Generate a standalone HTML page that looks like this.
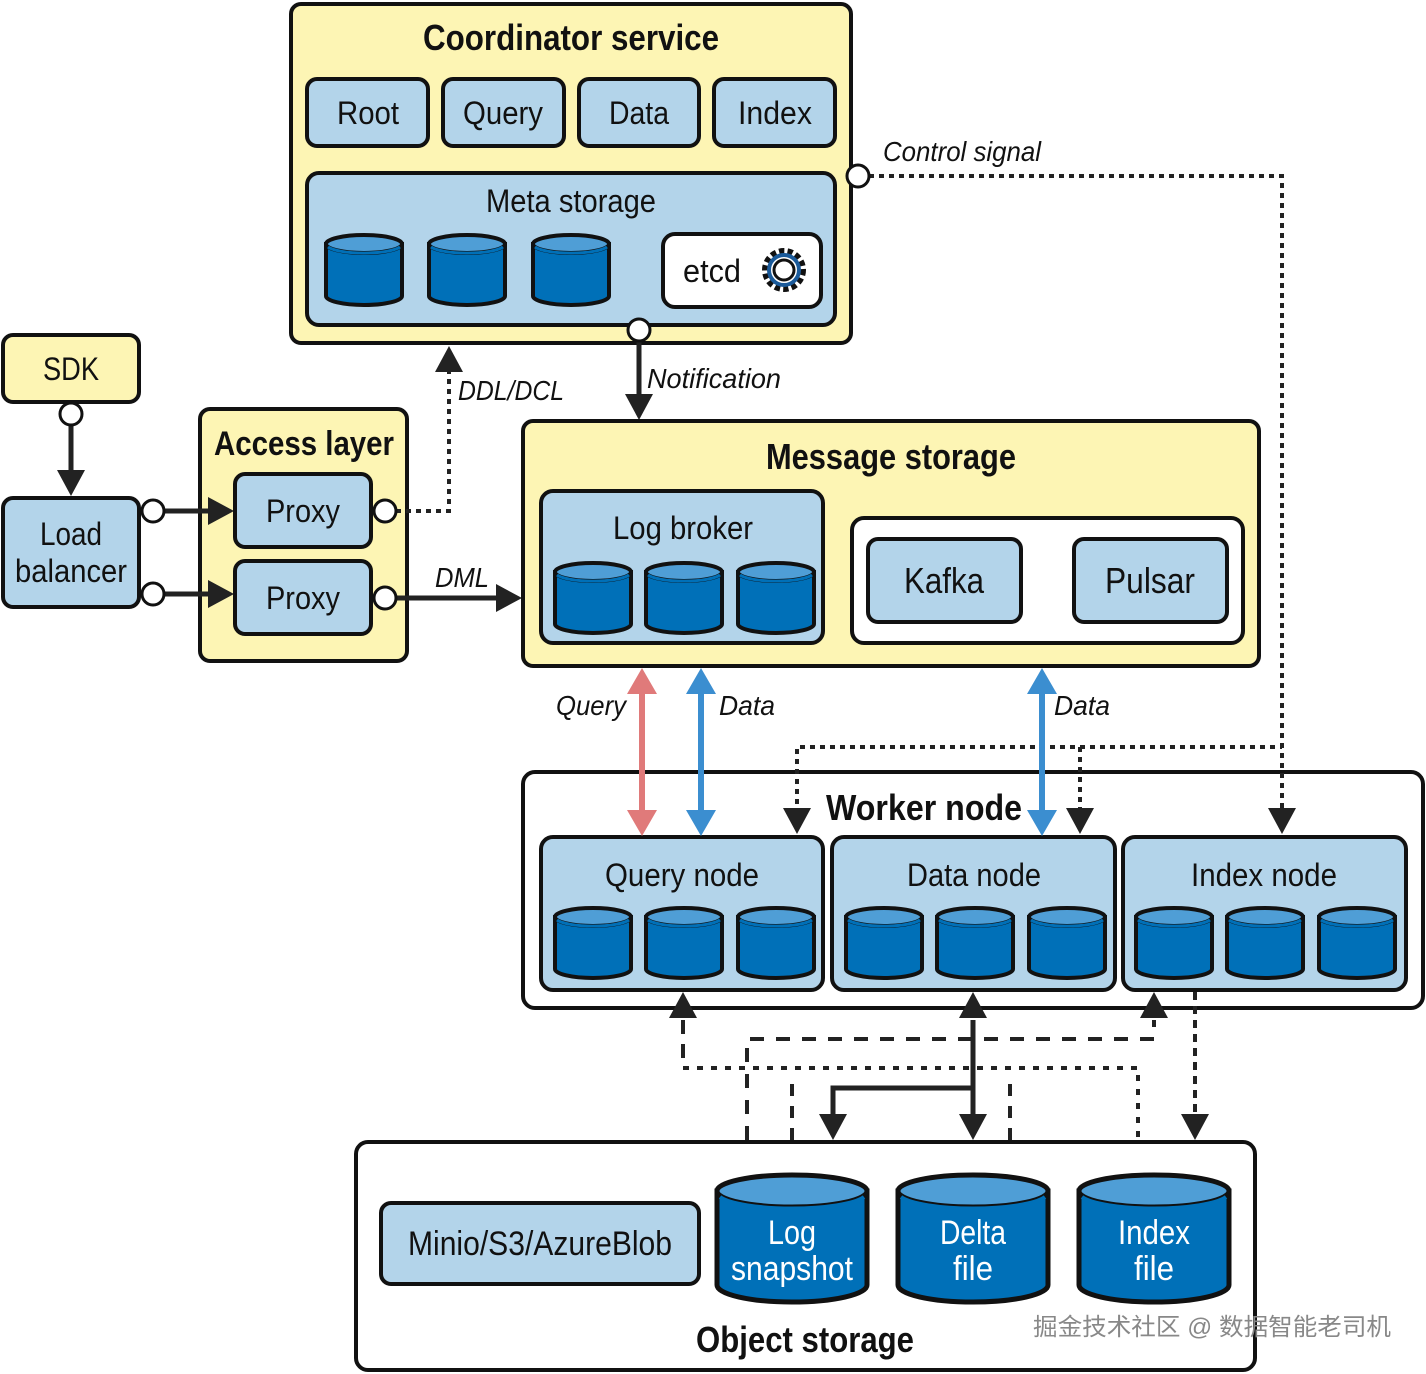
<!DOCTYPE html>
<html><head><meta charset="utf-8"><style>
html,body{margin:0;padding:0;background:#fff}
svg{display:block}
text{font-family:"Liberation Sans","Noto Sans CJK SC",sans-serif;fill:#111}
</style></head><body>
<svg width="1426" height="1374" viewBox="0 0 1426 1374" xmlns="http://www.w3.org/2000/svg">
<defs>
<g id="cyl">
<path d="M0,10 V62 A38,9 0 0 0 76,62 V10 Z" fill="#0070b8" stroke="#111" stroke-width="4"/>
<ellipse cx="38" cy="10" rx="38" ry="9" fill="#4f9ed6" stroke="#111" stroke-width="4"/>
<path d="M2,13 A38,9 0 0 0 74,13" fill="none" stroke="#0070b8" stroke-width="3"/>
</g>
<g id="bcyl">
<path d="M0,18 V112 A75,17 0 0 0 150,112 V18 Z" fill="#0070b8" stroke="#111" stroke-width="5"/>
<ellipse cx="75" cy="18" rx="75" ry="16" fill="#4f9ed6" stroke="#111" stroke-width="5"/>
<path d="M3,24 A75,16 0 0 0 147,24" fill="none" stroke="#0070b8" stroke-width="4"/>
</g>
</defs>

<!-- Coordinator -->
<rect x="291" y="4" width="560" height="339" rx="10" fill="#fdf5b4" stroke="#111" stroke-width="4"/>
<text x="571" y="50" font-size="36" font-weight="bold" text-anchor="middle" textLength="296" lengthAdjust="spacingAndGlyphs">Coordinator service</text>
<g font-size="32" text-anchor="middle">
<rect x="307" y="79" width="121" height="67" rx="10" fill="#b3d4ea" stroke="#111" stroke-width="4"/>
<text x="368" y="124" textLength="62" lengthAdjust="spacingAndGlyphs">Root</text>
<rect x="443" y="79" width="121" height="67" rx="10" fill="#b3d4ea" stroke="#111" stroke-width="4"/>
<text x="503" y="124" textLength="80" lengthAdjust="spacingAndGlyphs">Query</text>
<rect x="579" y="79" width="120" height="67" rx="10" fill="#b3d4ea" stroke="#111" stroke-width="4"/>
<text x="639" y="124" textLength="60" lengthAdjust="spacingAndGlyphs">Data</text>
<rect x="714" y="79" width="121" height="67" rx="10" fill="#b3d4ea" stroke="#111" stroke-width="4"/>
<text x="775" y="124" textLength="74" lengthAdjust="spacingAndGlyphs">Index</text>
</g>
<rect x="307" y="173" width="528" height="152" rx="12" fill="#b3d4ea" stroke="#111" stroke-width="4"/>
<text x="571" y="212" font-size="32" text-anchor="middle" textLength="170" lengthAdjust="spacingAndGlyphs">Meta storage</text>
<use href="#cyl" x="326" y="234"/><use href="#cyl" x="429" y="234"/><use href="#cyl" x="533" y="234"/>
<rect x="663" y="234" width="158" height="73" rx="12" fill="#fff" stroke="#111" stroke-width="4"/>
<text x="712" y="282" font-size="32" text-anchor="middle" textLength="58" lengthAdjust="spacingAndGlyphs">etcd</text>
<circle cx="784" cy="270" r="18" fill="none" stroke="#111" stroke-width="8" stroke-dasharray="5 3"/>
<circle cx="784" cy="270" r="15" fill="none" stroke="#1a5a9a" stroke-width="4"/>
<circle cx="784" cy="270" r="10" fill="#fff" stroke="#111" stroke-width="3"/>

<!-- SDK -->
<rect x="3" y="335" width="136" height="67" rx="10" fill="#fdf5b4" stroke="#111" stroke-width="4"/>
<text x="71" y="380" font-size="32" text-anchor="middle" textLength="56" lengthAdjust="spacingAndGlyphs">SDK</text>
<line x1="71" y1="424" x2="71" y2="476" stroke="#222" stroke-width="5"/>
<path d="M57,470 L71,496 L85,470Z" fill="#222"/>
<circle cx="71" cy="414" r="11" fill="#fff" stroke="#111" stroke-width="3"/>
<rect x="3" y="498" width="136" height="109" rx="10" fill="#b3d4ea" stroke="#111" stroke-width="4"/>
<text x="71" y="545" font-size="32" text-anchor="middle" textLength="62" lengthAdjust="spacingAndGlyphs">Load</text>
<text x="71" y="582" font-size="32" text-anchor="middle" textLength="112" lengthAdjust="spacingAndGlyphs">balancer</text>

<!-- Access layer -->
<rect x="200" y="409" width="207" height="252" rx="10" fill="#fdf5b4" stroke="#111" stroke-width="4"/>
<text x="304" y="455" font-size="34" font-weight="bold" text-anchor="middle" textLength="180" lengthAdjust="spacingAndGlyphs">Access layer</text>
<line x1="164" y1="511" x2="214" y2="511" stroke="#222" stroke-width="5"/>
<path d="M208,497 L234,511 L208,525Z" fill="#222"/>
<line x1="164" y1="594" x2="214" y2="594" stroke="#222" stroke-width="5"/>
<path d="M208,580 L234,594 L208,608Z" fill="#222"/>
<circle cx="153" cy="511" r="11" fill="#fff" stroke="#111" stroke-width="3"/>
<circle cx="153" cy="594" r="11" fill="#fff" stroke="#111" stroke-width="3"/>
<rect x="235" y="474" width="136" height="73" rx="10" fill="#b3d4ea" stroke="#111" stroke-width="4"/>
<text x="303" y="522" font-size="32" text-anchor="middle" textLength="74" lengthAdjust="spacingAndGlyphs">Proxy</text>
<rect x="235" y="561" width="136" height="73" rx="10" fill="#b3d4ea" stroke="#111" stroke-width="4"/>
<text x="303" y="609" font-size="32" text-anchor="middle" textLength="74" lengthAdjust="spacingAndGlyphs">Proxy</text>
<path d="M396,511 H449 V368" fill="none" stroke="#222" stroke-width="4" stroke-dasharray="5 5"/>
<path d="M435,372 L449,346 L463,372Z" fill="#222"/>
<text x="458" y="400" font-size="28" font-style="italic" textLength="106" lengthAdjust="spacingAndGlyphs">DDL/DCL</text>
<line x1="396" y1="598" x2="500" y2="598" stroke="#222" stroke-width="5"/>
<path d="M496,584 L522,598 L496,612Z" fill="#222"/>
<text x="435" y="587" font-size="28" font-style="italic" textLength="54" lengthAdjust="spacingAndGlyphs">DML</text>
<circle cx="385" cy="511" r="11" fill="#fff" stroke="#111" stroke-width="3"/>
<circle cx="385" cy="598" r="11" fill="#fff" stroke="#111" stroke-width="3"/>

<!-- Notification -->
<line x1="639" y1="340" x2="639" y2="400" stroke="#222" stroke-width="5"/>
<path d="M625,394 L639,420 L653,394Z" fill="#222"/>
<circle cx="639" cy="330" r="11" fill="#fff" stroke="#111" stroke-width="3"/>
<text x="647" y="388" font-size="28" font-style="italic" textLength="134" lengthAdjust="spacingAndGlyphs">Notification</text>

<!-- Message storage -->
<rect x="523" y="421" width="736" height="245" rx="10" fill="#fdf5b4" stroke="#111" stroke-width="4"/>
<text x="891" y="469" font-size="36" font-weight="bold" text-anchor="middle" textLength="250" lengthAdjust="spacingAndGlyphs">Message storage</text>
<rect x="541" y="491" width="282" height="152" rx="12" fill="#b3d4ea" stroke="#111" stroke-width="4"/>
<text x="683" y="539" font-size="32" text-anchor="middle" textLength="140" lengthAdjust="spacingAndGlyphs">Log broker</text>
<use href="#cyl" x="555" y="562"/><use href="#cyl" x="646" y="562"/><use href="#cyl" x="738" y="562"/>
<rect x="852" y="518" width="391" height="125" rx="12" fill="#fff" stroke="#111" stroke-width="4"/>
<rect x="868" y="539" width="153" height="83" rx="10" fill="#b3d4ea" stroke="#111" stroke-width="4"/>
<text x="944" y="593" font-size="36" text-anchor="middle" textLength="80" lengthAdjust="spacingAndGlyphs">Kafka</text>
<rect x="1074" y="539" width="153" height="83" rx="10" fill="#b3d4ea" stroke="#111" stroke-width="4"/>
<text x="1150" y="593" font-size="36" text-anchor="middle" textLength="90" lengthAdjust="spacingAndGlyphs">Pulsar</text>

<!-- Worker node -->
<rect x="523" y="772" width="900" height="236" rx="12" fill="#fff" stroke="#111" stroke-width="4"/>
<text x="924" y="820" font-size="36" font-weight="bold" text-anchor="middle" textLength="196" lengthAdjust="spacingAndGlyphs">Worker node</text>
<g>
<rect x="541" y="837" width="282" height="153" rx="12" fill="#b3d4ea" stroke="#111" stroke-width="4"/>
<text x="682" y="886" font-size="32" text-anchor="middle" textLength="154" lengthAdjust="spacingAndGlyphs">Query node</text>
<use href="#cyl" x="555" y="907"/><use href="#cyl" x="646" y="907"/><use href="#cyl" x="738" y="907"/>
<rect x="832" y="837" width="283" height="153" rx="12" fill="#b3d4ea" stroke="#111" stroke-width="4"/>
<text x="974" y="886" font-size="32" text-anchor="middle" textLength="134" lengthAdjust="spacingAndGlyphs">Data node</text>
<use href="#cyl" x="846" y="907"/><use href="#cyl" x="937" y="907"/><use href="#cyl" x="1029" y="907"/>
<rect x="1123" y="837" width="283" height="153" rx="12" fill="#b3d4ea" stroke="#111" stroke-width="4"/>
<text x="1264" y="886" font-size="32" text-anchor="middle" textLength="146" lengthAdjust="spacingAndGlyphs">Index node</text>
<use href="#cyl" x="1136" y="907"/><use href="#cyl" x="1227" y="907"/><use href="#cyl" x="1319" y="907"/>
</g>

<!-- control signal (drawn over worker node) -->
<text x="883" y="161" font-size="28" font-style="italic" textLength="158" lengthAdjust="spacingAndGlyphs">Control signal</text>
<path d="M869,176 H1282 V814" fill="none" stroke="#222" stroke-width="4" stroke-dasharray="5 5"/>
<path d="M1268,808 L1282,834 L1296,808Z" fill="#222"/>
<circle cx="858" cy="176" r="11" fill="#fff" stroke="#111" stroke-width="3"/>
<path d="M797,814 V747 H1282 M1080,747 V814" fill="none" stroke="#222" stroke-width="4" stroke-dasharray="5 5"/>
<path d="M783,808 L797,834 L811,808Z M1066,808 L1080,834 L1094,808Z" fill="#222"/>

<!-- Query/Data arrows -->
<line x1="642" y1="690" x2="642" y2="814" stroke="#e07a7a" stroke-width="6"/>
<path d="M627,694 L642,668 L657,694Z M627,810 L642,836 L657,810Z" fill="#e07a7a"/>
<line x1="701" y1="690" x2="701" y2="814" stroke="#3b8ed0" stroke-width="6"/>
<path d="M686,694 L701,668 L716,694Z M686,810 L701,836 L716,810Z" fill="#3b8ed0"/>
<line x1="1042" y1="690" x2="1042" y2="814" stroke="#3b8ed0" stroke-width="6"/>
<path d="M1027,694 L1042,668 L1057,694Z M1027,810 L1042,836 L1057,810Z" fill="#3b8ed0"/>
<text x="556" y="715" font-size="28" font-style="italic" textLength="70" lengthAdjust="spacingAndGlyphs">Query</text>
<text x="719" y="715" font-size="28" font-style="italic" textLength="56" lengthAdjust="spacingAndGlyphs">Data</text>
<text x="1054" y="715" font-size="28" font-style="italic" textLength="56" lengthAdjust="spacingAndGlyphs">Data</text>

<!-- bottom connectors -->
<g fill="none" stroke="#222" stroke-width="4">
<path d="M683,1020 V1068" stroke-dasharray="14 10"/>
<path d="M683,1068 H1138 V1140" stroke-dasharray="6 8"/>
<path d="M747,1140 V1039 H1154 V1020" stroke-dasharray="14 12"/>
<path d="M792,1140 V1080" stroke-dasharray="12 10"/>
<path d="M1010,1140 V1080" stroke-dasharray="12 10"/>
<path d="M1195,992 V1120" stroke-dasharray="8 6"/>
<path d="M973,1020 V1118 M973,1088 H833 V1118" stroke-width="5"/>
</g>
<path d="M669,1018 L683,992 L697,1018Z M1140,1018 L1154,992 L1168,1018Z M959,1018 L973,992 L987,1018Z" fill="#222"/>
<path d="M959,1114 L973,1140 L987,1114Z M819,1114 L833,1140 L847,1114Z M1181,1114 L1195,1140 L1209,1114Z" fill="#222"/>

<!-- Object storage -->
<rect x="356" y="1142" width="899" height="228" rx="12" fill="#fff" stroke="#111" stroke-width="4"/>
<rect x="381" y="1203" width="318" height="81" rx="10" fill="#b3d4ea" stroke="#111" stroke-width="4"/>
<text x="540" y="1255" font-size="34" text-anchor="middle" textLength="264" lengthAdjust="spacingAndGlyphs">Minio/S3/AzureBlob</text>
<use href="#bcyl" x="717" y="1173"/><use href="#bcyl" x="898" y="1173"/><use href="#bcyl" x="1079" y="1173"/>
<g font-size="34" text-anchor="middle">
<text x="792" y="1244" style="fill:#fff" textLength="48" lengthAdjust="spacingAndGlyphs">Log</text>
<text x="792" y="1280" style="fill:#fff" textLength="122" lengthAdjust="spacingAndGlyphs">snapshot</text>
<text x="973" y="1244" style="fill:#fff" textLength="66" lengthAdjust="spacingAndGlyphs">Delta</text>
<text x="973" y="1280" style="fill:#fff" textLength="40" lengthAdjust="spacingAndGlyphs">file</text>
<text x="1154" y="1244" style="fill:#fff" textLength="72" lengthAdjust="spacingAndGlyphs">Index</text>
<text x="1154" y="1280" style="fill:#fff" textLength="40" lengthAdjust="spacingAndGlyphs">file</text>
</g>
<text x="805" y="1352" font-size="36" font-weight="bold" text-anchor="middle" textLength="218" lengthAdjust="spacingAndGlyphs">Object storage</text>
<text x="1033" y="1335" font-size="24" style="fill:#888" textLength="358" lengthAdjust="spacingAndGlyphs">掘金技术社区 @ 数据智能老司机</text>
</svg>
</body></html>
